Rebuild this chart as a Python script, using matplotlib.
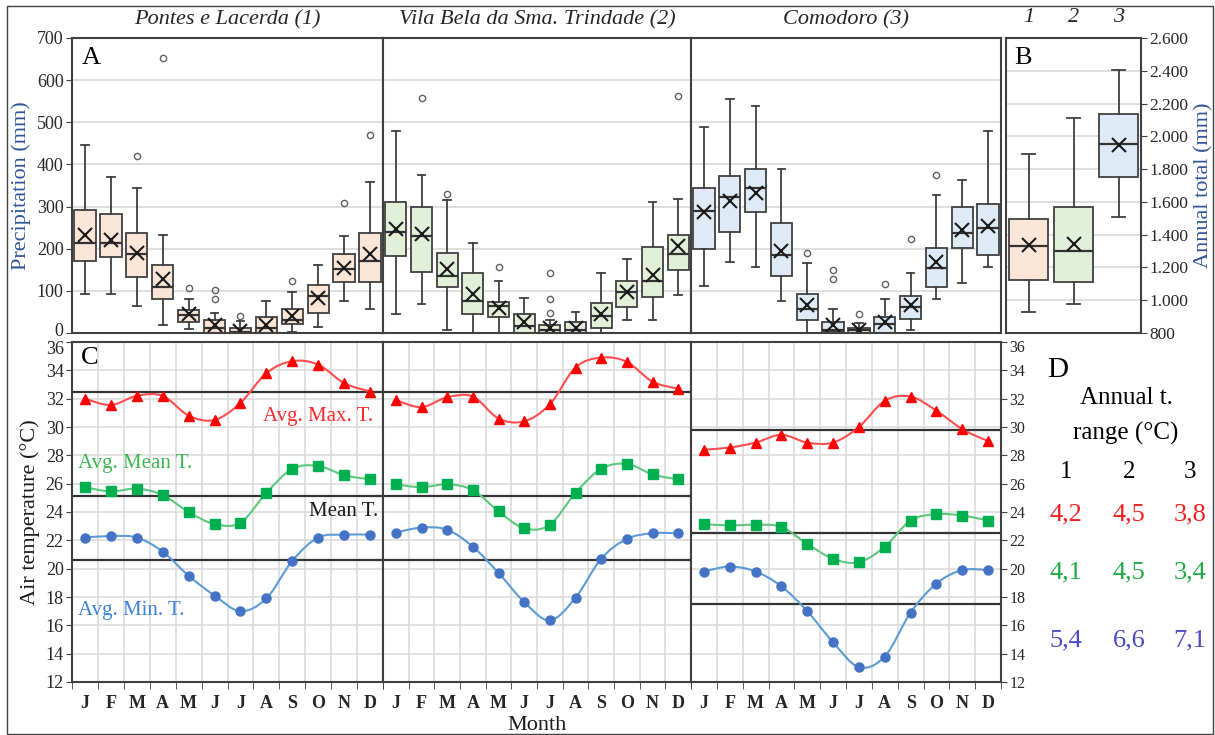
import matplotlib
matplotlib.use("Agg")
import matplotlib.pyplot as plt
from matplotlib.path import Path
from matplotlib.patches import PathPatch, Rectangle
from matplotlib.ticker import FuncFormatter, MultipleLocator
from matplotlib.transforms import ScaledTranslation

W, H = 1215, 735

MONTHS = ["J", "F", "M", "A", "M", "J", "J", "A", "S", "O", "N", "D"]
STATIONS = ["Pontes e Lacerda (1)", "Vila Bela da Sma. Trindade (2)", "Comodoro (3)"]
STATION_IDS = ["1", "2", "3"]

# monthly precipitation boxes (mm)
pl_low = [93, 93, 63, 18, 10, 0, 0, 0, 2, 15, 77, 57]
pl_q1 = [172, 181, 133, 80, 25, 0, 0, 0, 22, 47, 120, 120]
pl_med = [213, 213, 188, 108, 43, 12, 3, 12, 30, 87, 152, 171]
pl_q3 = [292, 283, 237, 162, 55, 32, 12, 38, 57, 113, 187, 237]
pl_high = [446, 370, 345, 233, 80, 47, 28, 77, 97, 162, 230, 358]
pl_mean = [233, 220, 191, 128, 45, 18, 5, 18, 40, 83, 155, 188]
pl_out = [[], [], [420], [652], [107], [103, 80], [40], [], [123], [], [309], [470]]

vb_low = [45, 69, 8, 0, 0, 0, 0, 0, 0, 32, 32, 89]
vb_q1 = [182, 145, 109, 45, 38, 0, 0, 0, 12, 62, 85, 150]
vb_med = [240, 231, 136, 75, 63, 16, 8, 6, 40, 97, 123, 188]
vb_q3 = [312, 299, 191, 142, 74, 45, 20, 25, 71, 123, 204, 233]
vb_high = [479, 376, 316, 214, 123, 83, 32, 51, 142, 176, 312, 319]
vb_mean = [247, 235, 152, 93, 59, 25, 13, 12, 45, 97, 138, 206]
vb_out = [[], [558], [330], [], [156], [], [142, 81, 47], [], [], [], [], [562]]

co_low = [111, 169, 156, 77, 0, 0, 0, 0, 6, 81, 119, 156]
co_q1 = [199, 240, 286, 136, 30, 2, 0, 0, 34, 109, 202, 184]
co_med = [290, 322, 343, 184, 58, 8, 6, 21, 62, 154, 237, 249]
co_q3 = [344, 372, 388, 260, 93, 25, 12, 38, 87, 202, 299, 306]
co_high = [489, 555, 538, 388, 165, 57, 24, 81, 142, 328, 362, 479]
co_mean = [286, 314, 332, 195, 66, 20, 6, 25, 67, 168, 244, 253]
co_out = [[], [], [], [], [191], [149, 127], [45], [116], [222], [374], [], []]

# annual totals (mm), stations 1-3
an_low = [930, 974, 1508]
an_q1 = [1125, 1114, 1753]
an_med = [1333, 1301, 1952]
an_q3 = [1495, 1571, 2135]
an_high = [1890, 2114, 2406]
an_mean = [1335, 1342, 1946]

# monthly air temperature (C)
pl_tmax = [32.0, 31.55, 32.2, 32.2, 30.8, 30.5, 31.7, 33.8, 34.65, 34.4, 33.1, 32.5]
pl_tmean = [25.75, 25.45, 25.65, 25.2, 24.0, 23.15, 23.25, 25.35, 27.05, 27.25, 26.6, 26.3]
pl_tmin = [22.2, 22.3, 22.2, 21.2, 19.5, 18.1, 17.0, 17.9, 20.55, 22.2, 22.4, 22.4]
vb_tmax = [31.9, 31.4, 32.1, 32.15, 30.6, 30.4, 31.6, 34.2, 34.9, 34.6, 33.2, 32.7]
vb_tmean = [25.95, 25.75, 25.95, 25.55, 24.05, 22.85, 23.1, 25.35, 27.05, 27.4, 26.65, 26.3]
vb_tmin = [22.55, 22.9, 22.75, 21.55, 19.7, 17.65, 16.35, 17.95, 20.7, 22.1, 22.5, 22.5]
co_tmax = [28.4, 28.55, 28.9, 29.45, 28.9, 28.9, 30.0, 31.85, 32.15, 31.15, 29.85, 29.0]
co_tmean = [23.15, 23.05, 23.1, 22.95, 21.75, 20.7, 20.45, 21.55, 23.4, 23.85, 23.75, 23.4]
co_tmin = [19.8, 20.15, 19.8, 18.75, 17.0, 14.8, 13.05, 13.8, 16.9, 18.95, 19.9, 19.9]

# black reference lines (max, mean, min)
pl_ref = [32.5, 25.1, 20.6]
vb_ref = [32.5, 25.1, 20.6]
co_ref = [29.8, 22.5, 17.5]

# annual temperature range table
range_max = ["4,2", "4,5", "3,8"]
range_mean = ["4,1", "4,5", "3,4"]
range_min = ["5,4", "6,6", "7,1"]

BOX_COLORS = ["#FBE5D6", "#E2F0D9", "#DEEBF7"]
EDGE = "#404040"
GRID = "#D9D9D9"
RED, GREEN, BLUE = "#FF0000", "#00B050", "#4472C4"
RED_L, GREEN_L, BLUE_L = "#FF4D4D", "#5CC77E", "#5B9BD5"
LABEL_BLUE = "#2F5496"

plt.rcParams["font.family"] = ["Liberation Serif", "DejaVu Serif"]
plt.rcParams["axes.edgecolor"] = EDGE
plt.rcParams["axes.linewidth"] = 1.5
plt.rcParams["xtick.color"] = EDGE
plt.rcParams["ytick.color"] = EDGE
plt.rcParams["xtick.labelcolor"] = "#262626"
plt.rcParams["ytick.labelcolor"] = "#262626"


def rect(x0, y0, x1, y1):
    return [x0 / W, 1 - y1 / H, (x1 - x0) / W, (y1 - y0) / H]


def smooth_line(ax, x, y, color):
    # excel-like smoothed line as cubic bezier segments
    n = len(x)
    verts = [(x[0], y[0])]
    codes = [Path.MOVETO]
    for i in range(n - 1):
        xa, ya = (x[i - 1], y[i - 1]) if i > 0 else (x[i], y[i])
        xb, yb = (x[i + 2], y[i + 2]) if i + 2 < n else (x[i + 1], y[i + 1])
        c1 = (x[i] + (x[i + 1] - xa) / 6, y[i] + (y[i + 1] - ya) / 6)
        c2 = (x[i + 1] - (xb - x[i]) / 6, y[i + 1] - (yb - y[i]) / 6)
        verts += [c1, c2, (x[i + 1], y[i + 1])]
        codes += [Path.CURVE4] * 3
    ax.add_patch(PathPatch(Path(verts, codes), fill=False, edgecolor=color, lw=1.5, zorder=3))


def draw_boxes(ax, low, q1, med, q3, high, mean, out, colors, width=0.82):
    stats = []
    for i in range(len(low)):
        stats.append(dict(whislo=low[i], q1=q1[i], med=med[i], q3=q3[i], whishi=high[i],
                          mean=mean[i], fliers=out[i]))
    bp = ax.bxp(stats, positions=range(1, len(low) + 1), widths=width, patch_artist=True,
                showmeans=True, capwidths=0.3,
                boxprops=dict(edgecolor=EDGE, lw=1.3),
                medianprops=dict(color="#333333", lw=1.6),
                whiskerprops=dict(color=EDGE, lw=1.3),
                capprops=dict(color=EDGE, lw=1.3),
                flierprops=dict(marker="o", mfc="none", mec="#606060", ms=4.5, mew=1.0),
                meanprops=dict(marker="x", mec="#1a1a1a", ms=10, mew=1.5))
    for patch, c in zip(bp["boxes"], colors):
        patch.set_facecolor(c)


def nudge_label(label, dy_px):
    label.set_transform(label.get_transform() + ScaledTranslation(0, dy_px / 100, fig.dpi_scale_trans))


fig = plt.figure(figsize=(W / 100, H / 100), dpi=100)

xcols = [(72, 383), (383, 691), (691, 1001)]
precip = [
    (pl_low, pl_q1, pl_med, pl_q3, pl_high, pl_mean, pl_out),
    (vb_low, vb_q1, vb_med, vb_q3, vb_high, vb_mean, vb_out),
    (co_low, co_q1, co_med, co_q3, co_high, co_mean, co_out),
]
temps = [
    (pl_tmax, pl_tmean, pl_tmin, pl_ref),
    (vb_tmax, vb_tmean, vb_tmin, vb_ref),
    (co_tmax, co_tmean, co_tmin, co_ref),
]
pos = list(range(1, 13))

for k, (x0, x1) in enumerate(xcols):
    # precipitation
    ax = fig.add_axes(rect(x0, 38, x1, 333))
    draw_boxes(ax, *precip[k], [BOX_COLORS[k]] * 12)
    ax.set_xlim(0.5, 12.5)
    ax.set_ylim(0, 700)
    ax.yaxis.set_major_locator(MultipleLocator(100))
    ax.grid(axis="y", color=GRID, lw=1.2, zorder=0)
    ax.set_axisbelow(True)
    ax.set_xticks([])
    if k == 0:
        ax.tick_params(axis="y", labelsize=13, length=4, pad=2)
        ax.set_ylabel("Precipitation (mm)", fontsize=16, color=LABEL_BLUE, labelpad=4)
        ax.text(0.03, 0.97, "A", transform=ax.transAxes, fontsize=19, va="top", ha="left")
        ax.set_yticks(range(0, 701, 100))
        nudge_label(ax.get_yticklabels()[0], 4)
    else:
        ax.tick_params(axis="y", left=False, labelleft=False)
    fig.text(((x0 + x1) / 2) / W, 1 - 20 / H, STATIONS[k], fontsize=16, style="italic",
             ha="center", va="center", color="#262626")

    # temperature
    tmax, tmean, tmin, ref = temps[k]
    axt = fig.add_axes(rect(x0, 342, x1, 682))
    axt.set_xlim(0.5, 12.5)
    axt.set_ylim(12, 36)
    axt.set_yticks(range(12, 37, 2))
    axt.set_xticks(pos)
    axt.set_xticklabels(MONTHS, fontsize=13, fontweight="bold")
    axt.set_xticks([p - 0.5 for p in pos] + [12.5], minor=True)
    axt.tick_params(axis="x", which="major", length=0, pad=9)
    axt.tick_params(axis="x", which="minor", length=5, direction="out")
    axt.grid(axis="x", which="minor", color=GRID, lw=1.1, zorder=0)
    axt.grid(axis="y", which="major", color=GRID, lw=1.1, zorder=0)
    axt.set_axisbelow(True)
    for r in ref:
        axt.axhline(r, color="#333333", lw=1.6, zorder=2)
    smooth_line(axt, pos, tmax, RED_L)
    smooth_line(axt, pos, tmean, GREEN_L)
    smooth_line(axt, pos, tmin, BLUE_L)
    axt.plot(pos, tmax, ls="none", marker="^", ms=7, color=RED, zorder=4)
    axt.plot(pos, tmean, ls="none", marker="s", ms=6.5, color=GREEN, zorder=4)
    axt.plot(pos, tmin, ls="none", marker="o", ms=6.5, color=BLUE, zorder=4)
    if k == 0:
        axt.tick_params(axis="y", labelsize=13, length=4, pad=2)
        axt.set_ylabel("Air temperature (°C)", fontsize=16, color="#1a1a1a", labelpad=4)
        axt.text(0.03, 0.985, "C", transform=axt.transAxes, fontsize=19, va="top", ha="left")
        axt.text(12.1, 30.75, "Avg. Max. T.", color="#FF2A2A", fontsize=15, ha="right", va="center")
        axt.text(0.75, 27.45, "Avg. Mean T.", color="#3DB553", fontsize=15, ha="left", va="center")
        axt.text(12.3, 24.0, "Mean T.", color="#1a1a1a", fontsize=15, ha="right", va="center")
        axt.text(0.72, 17.05, "Avg. Min. T.", color="#3C82D8", fontsize=15, ha="left", va="center")
        nudge_label(axt.get_yticklabels()[-1], -6)
    elif k == 2:
        axt.yaxis.tick_right()
        axt.tick_params(axis="y", labelsize=11.5, length=4, pad=2)
        nudge_label(axt.get_yticklabels()[-1], -4)
    else:
        axt.tick_params(axis="y", left=False, labelleft=False)
    if k == 1:
        axt.set_xlabel("Month", fontsize=16, color="#1a1a1a", labelpad=3)

# annual totals
axb = fig.add_axes(rect(1006, 38, 1141, 333))
draw_boxes(axb, an_low, an_q1, an_med, an_q3, an_high, an_mean, [[], [], []], BOX_COLORS, width=0.85)
axb.set_xlim(0.5, 3.5)
axb.set_ylim(800, 2600)
axb.yaxis.set_major_locator(MultipleLocator(200))
axb.yaxis.set_major_formatter(FuncFormatter(lambda v, p: f"{v:,.0f}".replace(",", ".")))
axb.yaxis.tick_right()
axb.yaxis.set_label_position("right")
axb.tick_params(axis="y", labelsize=12.5, length=4, pad=2)
axb.set_xticks([])
axb.grid(axis="y", color=GRID, lw=1.2, zorder=0)
axb.set_axisbelow(True)
axb.set_ylabel("Annual total (mm)", fontsize=16, color=LABEL_BLUE, labelpad=4)
axb.text(0.06, 0.97, "B", transform=axb.transAxes, fontsize=19, va="top", ha="left")
for i, s in enumerate(STATION_IDS):
    fig.text((1006 + 45 * i + 22.5) / W, 1 - 18 / H, s, fontsize=16, style="italic",
             ha="center", va="center", color="#262626")

# table D
fig.text(1047 / W, 1 - 370 / H, "D", fontsize=21, ha="left", va="center")
fig.text(1126 / W, 1 - 398 / H, "Annual t.", fontsize=18, ha="center", va="center")
fig.text(1126 / W, 1 - 433 / H, "range (°C)", fontsize=18, ha="center", va="center")
col_x = [1066, 1129, 1190]
for i in range(3):
    fig.text(col_x[i] / W, 1 - 472 / H, STATION_IDS[i], fontsize=18, ha="center", va="center")
    fig.text(col_x[i] / W, 1 - 514 / H, range_max[i], fontsize=19, ha="center", va="center", color="#F01E1E")
    fig.text(col_x[i] / W, 1 - 572 / H, range_mean[i], fontsize=19, ha="center", va="center", color="#1FAA45")
    fig.text(col_x[i] / W, 1 - 640 / H, range_min[i], fontsize=19, ha="center", va="center", color="#4A4AC8")

# outer frame
fig.patches.append(Rectangle((7 / W, 1 / H), 1206 / W, (H - 7) / H, transform=fig.transFigure,
                             fill=False, edgecolor="#404040", lw=1.0))

fig.savefig("out.png", dpi=100)
